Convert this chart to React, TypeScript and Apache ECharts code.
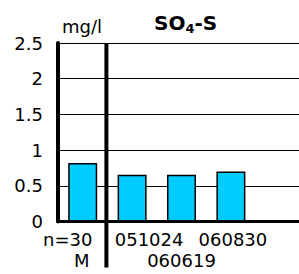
import React, { useEffect, useRef } from "react";
import * as echarts from "echarts";

const categories = ["n=30", "051024", "060619", "060830", "extra"];
const values: (number | null)[] = [0.82, 0.655, 0.655, 0.7, null];
const topLabels = ["n=30", "051024", "", "060830", ""];
const bottomLabels = ["M", "", "060619", "", ""];
const topShift = [-15, 17, 0, 2, 0];
const bottomShift = [-1, 0, 0, 0, 0];
const yMin = 0;
const yMax = 2.5;
const yStep = 0.5;
const unit = "mg/l";

const FONT = "DejaVu Sans";

function shiftedItems(labels: string[], shifts: number[]) {
  return labels.map((l, i) => {
    const s = shifts[i];
    const pad = s < 0 ? [0, -2 * s, 0, 0] : [0, 0, 0, 2 * s];
    return { value: categories[i], textStyle: { padding: pad } };
  });
}

export default function App() {
  const ref = useRef<HTMLDivElement>(null);
  useEffect(() => {
    if (!ref.current) return;
    const chart = echarts.init(ref.current, null, { renderer: "svg", width: 299, height: 274 });
    const labelStyle = { fontFamily: FONT, fontSize: 18, color: "#000" };
    chart.setOption({
      animation: false,
      backgroundColor: "#fff",
      title: {
        text: "{b|SO}{s|4}{b|-S}",
        left: 149,
        top: 6,
        textStyle: {
          rich: {
            b: { fontFamily: FONT, fontWeight: "bold", fontSize: 20, color: "#000", lineHeight: 24 },
            s: { fontFamily: FONT, fontWeight: "bold", fontSize: 13, color: "#000", lineHeight: 24, verticalAlign: "bottom", padding: [9, 0, 0, 0] },
          },
        },
      },
      grid: { left: 58, top: 43, bottom: 52.5, width: 247, containLabel: false, outerBoundsMode: "none" },
      xAxis: [
        {
          type: "category",
          data: shiftedItems(topLabels, topShift),
          axisLine: { show: true, lineStyle: { color: "#000", width: 3 } },
          axisTick: { show: false },
          axisLabel: {
            interval: 0,
            margin: 9,
            ...labelStyle,
            formatter: (_v: string, i: number) => topLabels[i],
          },
          splitLine: { show: false },
        },
        {
          type: "category",
          position: "bottom",
          offset: 21,
          data: shiftedItems(bottomLabels, bottomShift),
          axisLine: { show: false },
          axisTick: { show: false },
          axisLabel: {
            interval: 0,
            margin: 9,
            ...labelStyle,
            formatter: (_v: string, i: number) => bottomLabels[i],
          },
          splitLine: { show: false },
        },
      ],
      yAxis: {
        type: "value",
        min: yMin,
        max: yMax,
        interval: yStep,
        name: unit,
        nameLocation: "end",
        nameGap: 8,
        nameTextStyle: { ...labelStyle, align: "left", padding: [0, 0, 0, 4] },
        axisLine: { show: true, lineStyle: { color: "#000", width: 4 } },
        axisTick: { show: false },
        axisLabel: { ...labelStyle, margin: 15 },
        splitLine: { show: true, lineStyle: { color: "#000", width: 1 } },
      },
      series: [
        {
          type: "bar",
          xAxisIndex: 0,
          data: values,
          barWidth: 29,
          itemStyle: { color: "#00CCFF", borderColor: "#000", borderWidth: 1.5 },
        },
      ],
    });
    const x0 = chart.convertToPixel({ xAxisIndex: 0 }, 0) as number;
    const x1 = chart.convertToPixel({ xAxisIndex: 0 }, 1) as number;
    const yTop = chart.convertToPixel({ yAxisIndex: 0 }, yMax) as number;
    const yBot = chart.convertToPixel({ yAxisIndex: 0 }, yMin) as number;
    const xd = (x0 + x1) / 2 - 1;
    chart.setOption({
      graphic: [
        {
          type: "line",
          shape: { x1: xd, y1: yTop, x2: xd, y2: yBot + 46 },
          style: { stroke: "#000", lineWidth: 4 },
          z: 100,
        },
      ],
    });
    return () => chart.dispose();
  }, []);
  return (
    <div
      ref={ref}
      style={{ position: "fixed", left: 0, top: 0, width: 299, height: 274 }}
    />
  );
}
